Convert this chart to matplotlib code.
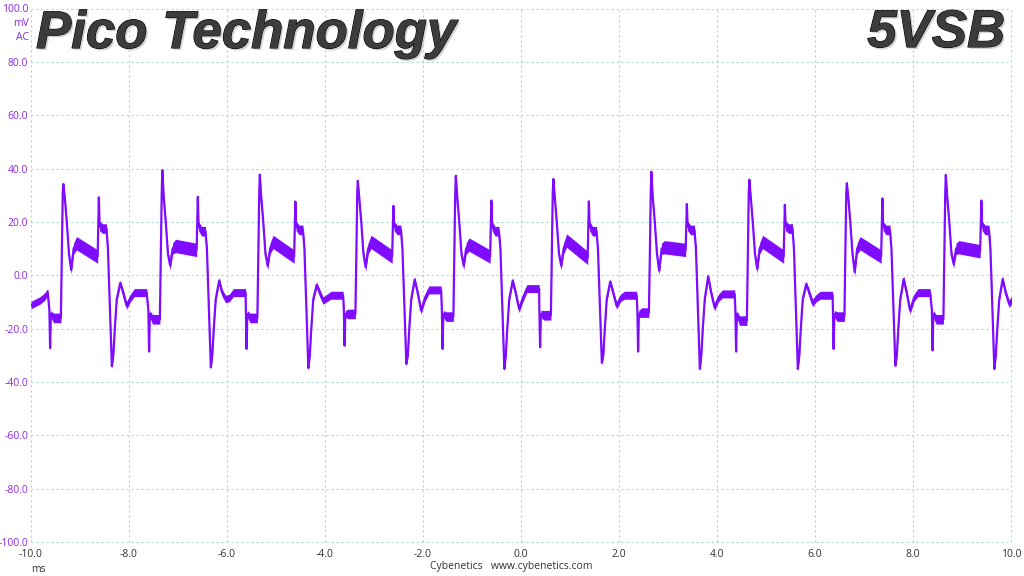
import matplotlib
matplotlib.use("Agg")
import matplotlib.pyplot as plt
from matplotlib import patheffects as pe

# ---------------- data ----------------
x_ticks = [-10, -8, -6, -4, -2, 0, 2, 4, 6, 8, 10]
y_ticks = [-100, -80, -60, -40, -20, 0, 20, 40, 60, 80, 100]

# times (ms) of the main positive peak of each cycle
peak_t = [-9.34, -7.32, -5.33, -3.33, -1.33, 0.66, 2.66, 4.66, 6.65, 8.67]

# per-cycle feature levels (mV)
peak_v = [34.2, 39.4, 37.7, 35.4, 37.3, 36.1, 38.8, 35.8, 34.5, 37.6]
neg_spike_v = [-27.3, -28.6, -27.6, -26.4, -27.6, -27.0, -28.6, -28.6, -27.6, -28.2]
pre_v = [-16.0, -16.5, -16.0, -14.5, -15.5, -15.0, -14.0, -17.0, -15.5, -16.5]
dip1_v = [2.0, 3.6, 3.5, 3.0, 3.6, 3.6, 1.7, 2.4, 1.2, 4.2]
mid_start_v = [12.0, 11.0, 12.5, 12.5, 11.5, 13.0, 10.5, 12.5, 12.0, 10.5]
mid_end_v = [7.0, 9.5, 7.0, 7.0, 7.0, 6.5, 9.5, 7.0, 7.0, 9.0]
spike2_v = [29.2, 29.4, 27.6, 26.0, 28.0, 27.7, 26.7, 26.4, 28.8, 28.0]
shelf_v = [17.5, 16.5, 17.0, 17.0, 16.5, 16.5, 17.0, 17.5, 17.0, 17.0]
trough_v = [-34.1, -34.5, -34.8, -33.2, -35.1, -32.8, -35.1, -35.1, -33.9, -35.1]
bump_v = [-2.9, -2.0, -3.6, -1.6, -2.0, -2.4, -0.4, -3.3, -1.4, -1.4]
dip2_v = [-11.4, -8.9, -9.5, -13.2, -12.6, -11.4, -12.0, -10.4, -13.2, -10.7]
plateau_v = [-6.5, -6.5, -7.5, -5.5, -5.0, -7.5, -7.0, -7.5, -6.5, -7.0]

features = {
    "peak": peak_v, "neg": neg_spike_v, "pre": pre_v, "dip1": dip1_v,
    "mid0": mid_start_v, "mid1": mid_end_v, "sp2": spike2_v, "shelf": shelf_v,
    "trough": trough_v, "bump": bump_v, "dip2": dip2_v, "plat": plateau_v,
}

# one period of the waveform: time relative to peak (ms), level (mV or feature), noise half-width (mV)
shape_rel = [-0.285, -0.27, -0.255, -0.20, -0.10, -0.05, -0.03, -0.012, 0.0, 0.03,
             0.07, 0.115, 0.16, 0.21, 0.27, 0.70, 0.725, 0.74, 0.80, 0.88,
             0.91, 0.95, 0.99, 1.02, 1.05, 1.09, 1.16, 1.22, 1.29, 1.37,
             1.45, 1.70]
shape_lvl = [-13.0, "neg", -14.5, "pre", "pre", "pre", 8.0, 31.0, "peak", 29.0,
             20.0, 8.0, "dip1", 10.0, "mid0", "mid1", "sp2", 18.5, "shelf", "shelf",
             10.0, -12.0, "trough", -30.0, -20.0, -9.0, "bump", -6.5, "dip2", -8.5,
             "plat", "plat"]
shape_band = [0.9, 0.9, 1.3, 1.8, 1.8, 1.8, 0.9, 0.9, 0.9, 0.9,
              0.9, 1.3, 1.6, 2.1, 2.5, 2.5, 0.9, 1.8, 1.8, 1.8,
              0.9, 0.9, 0.9, 0.9, 0.9, 0.9, 1.1, 1.4, 1.4, 1.4,
              1.5, 1.5]

# start of trace (before the first full cycle)
lead_t = [-10.0, -9.93, -9.82, -9.72, -9.66]
lead_v = [-11.2, -10.5, -9.5, -8.0, -6.3]
lead_band = [1.4, 1.4, 1.4, 1.4, 1.4]

# ---------------- build trace ----------------
t_all, v_all, b_all = list(lead_t), list(lead_v), list(lead_band)
for k, tp in enumerate(peak_t):
    for r, lv, bd in zip(shape_rel, shape_lvl, shape_band):
        t_all.append(tp + r)
        v_all.append(features[lv][k] if isinstance(lv, str) else lv)
        b_all.append(bd)

lo = [v - b for v, b in zip(v_all, b_all)]
hi = [v + b for v, b in zip(v_all, b_all)]

# ---------------- figure ----------------
W, H = 1024, 576
fig = plt.figure(figsize=(W / 100, H / 100), dpi=100)
fig.patch.set_facecolor("white")
ax = fig.add_axes([31 / W, 1 - 542 / H, 980 / W, (542 - 8.5) / H])

trace_col = "#7f0cff"
purple = "#8a2be2"
grid_col = "#a6d8d8"

ax.fill_between(t_all, lo, hi, color=trace_col, lw=0, zorder=3)
ax.plot(t_all, v_all, color=trace_col, lw=1.6, zorder=4)

ax.set_xlim(-10, 10)
ax.set_ylim(-100, 100)
ax.set_xticks(x_ticks)
ax.set_yticks(y_ticks)
ax.set_xticklabels([f"{v:.1f}" for v in x_ticks])
ylabels = [f"{v:.1f}" for v in y_ticks]
ax.set_yticklabels(ylabels)

for s in ax.spines.values():
    s.set_visible(False)
ax.grid(True, color=grid_col, lw=0.8, linestyle=(0, (2, 2.5)))
for gl in ax.get_xgridlines() + ax.get_ygridlines():
    gl.set_clip_on(False)
ax.set_axisbelow(True)

tick_font = "Open Sans"
ax.tick_params(axis="both", length=0)
ax.tick_params(axis="y", pad=2, labelcolor=purple, labelsize=7.5)
ax.tick_params(axis="x", pad=5, labelcolor="#333333", labelsize=7.5)
for lab in ax.get_xticklabels() + ax.get_yticklabels():
    lab.set_fontfamily(tick_font)

fig.text(29 / W, 1 - 23 / H, "mV", ha="right", va="center", color=purple,
         fontsize=7.5, fontfamily=tick_font)
fig.text(29 / W, 1 - 37 / H, "AC", ha="right", va="center", color=purple,
         fontsize=7.5, fontfamily=tick_font)
fig.text(38 / W, 1 - 570 / H, "ms", ha="center", va="center", color="#333333",
         fontsize=7.5, fontfamily=tick_font)
fig.text(511 / W, 1 - 567 / H, "Cybenetics   www.cybenetics.com", ha="center",
         va="center", color="#333333", fontsize=7.5, fontfamily=tick_font)

title_fx = [pe.SimplePatchShadow(offset=(1.5, -1.5), shadow_rgbFace="#aaaaaa", alpha=0.5),
            pe.Stroke(linewidth=0.8, foreground="#000000"), pe.Normal()]
fig.text(36 / W, 1 - 48 / H, "Pico Technology", ha="left", va="baseline",
         fontsize=38, fontweight="bold", fontstyle="italic",
         fontfamily="Liberation Sans", color="#3c3c3c", path_effects=title_fx)
fig.text(1005 / W, 1 - 47 / H, "5VSB", ha="right", va="baseline",
         fontsize=38, fontweight="bold", fontstyle="italic",
         fontfamily="Liberation Sans", color="#3c3c3c", path_effects=title_fx)

fig.savefig("out.png", dpi=100, facecolor="white")
